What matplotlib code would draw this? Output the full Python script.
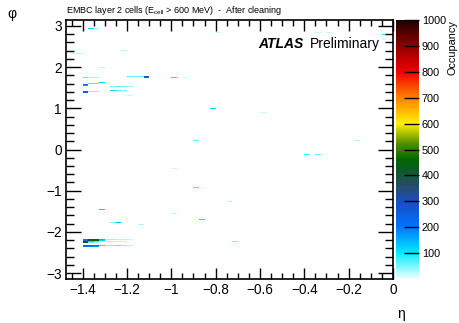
import numpy as np
import matplotlib
matplotlib.use("Agg")
import matplotlib.pyplot as plt
from matplotlib.colors import LinearSegmentedColormap
from matplotlib.ticker import MultipleLocator

plt.rcParams['font.family'] = ['Liberation Sans', 'DejaVu Sans']
plt.rcParams['mathtext.fontset'] = 'custom'
plt.rcParams['mathtext.rm'] = 'Liberation Sans'

# ---- data: occupied cells (eta, phi, occupancy) ----
cell_eta = [-1.36, -1.34,
            -0.04,
            -1.19, -1.165, -1.14, -1.115, -1.115, -0.99,
            -1.39, -1.365, -1.34,
            -1.315, -1.365, -1.34,
            -1.39, -1.39,
            -1.265, -1.24, -1.215, -1.19,
            -1.265, -1.24, -1.215,
            -1.39, -1.39, -1.365, -1.34,
            -1.315, -1.19,
            -0.815, -0.89, -0.165, -0.39, -0.34, -0.89,
            -1.315, -1.265, -1.24, -0.865, -1.14, -0.99, -0.74, -0.715,
            -1.39, -1.365, -1.34, -1.315, -1.29, -1.265, -1.24, -1.215, -1.19,
            -1.39, -1.365, -1.34, -1.315,
            -1.39, -1.365, -1.34, -1.315, -1.29, -1.265, -1.24, -1.215,
            -1.39, -1.365, -1.34,
            -1.39, -1.365, -1.34, -1.315, -1.29, -1.265, -1.24, -1.215, -1.19,
            -1.39, -1.365, -1.34,
            -1.215, -1.415, -1.44, -0.79, -0.34, -0.29, -0.59, -0.99]
cell_phi = [2.93, 2.93,
            2.78,
            1.78, 1.78, 1.78, 1.78, 1.755, 1.76,
            1.755, 1.755, 1.755,
            1.635, 1.61, 1.61,
            1.575, 1.55,
            1.54, 1.54, 1.54, 1.54,
            1.43, 1.43, 1.43,
            1.415, 1.39, 1.40, 1.40,
            2.0, 1.32,
            1.0, 0.22, 0.22, -0.10, -0.10, -0.91,
            -1.46, -1.78, -1.78, -1.71, -1.83, -1.56, -1.27, -2.22,
            -2.17, -2.17, -2.17, -2.17, -2.17, -2.17, -2.17, -2.17, -2.17,
            -2.195, -2.195, -2.195, -2.195,
            -2.22, -2.22, -2.22, -2.22, -2.22, -2.22, -2.22, -2.22,
            -2.245, -2.245, -2.245,
            -2.33, -2.33, -2.33, -2.33, -2.33, -2.33, -2.33, -2.33, -2.33,
            -2.355, -2.355, -2.355,
            2.39, 2.32, 2.32, 2.84, 2.84, 2.84, 0.9, -0.45]
cell_occ = [130, 40,
            90,
            60, 60, 70, 280, 240, 110,
            70, 40, 30,
            120, 80, 70,
            200, 170,
            50, 70, 50, 40,
            110, 60, 50,
            230, 260, 40, 30,
            25, 20,
            120, 60, 30, 80, 60, 80,
            120, 50, 140, 110, 30, 25, 30, 50,
            200, 440, 430, 150, 40, 40, 30, 30, 20,
            220, 430, 420, 120,
            420, 120, 80, 40, 30, 30, 30, 20,
            400, 60, 40,
            240, 230, 220, 100, 50, 50, 80, 40, 30,
            200, 190, 180,
            30, 25, 25, 20, 20, 20, 15, 15]

eta_edges = np.linspace(-1.475, 0.0, 60)
phi_edges = np.linspace(-np.pi, np.pi, 257)

H, _, _ = np.histogram2d(cell_eta, cell_phi, bins=[eta_edges, phi_edges], weights=cell_occ)
Hm = np.ma.masked_where(H.T <= 0, H.T)

stops = [(0.0, (0.93, 1.0, 1.0)), (0.1, (0.0, 0.93, 1.0)), (0.2, (0.0, 0.45, 1.0)),
         (0.3, (0.1, 0.3, 0.75)), (0.36, (0.15, 0.3, 0.4)), (0.42, (0.05, 0.35, 0.15)),
         (0.46, (0.0, 0.4, 0.0)), (0.52, (0.3, 0.55, 0.0)), (0.6, (1.0, 0.95, 0.0)),
         (0.7, (1.0, 0.5, 0.0)), (0.8, (0.95, 0.0, 0.0)), (0.9, (0.55, 0.0, 0.0)),
         (1.0, (0.12, 0.0, 0.0))]
cmap = LinearSegmentedColormap.from_list('atlas', stops, N=512)
cmap.set_bad((1, 1, 1, 0))

fig = plt.figure(figsize=(4.6, 3.23), dpi=100)
ax = fig.add_axes([66/460, 1-279/323, (393-66)/460, (279-20)/323])
img = ax.imshow(Hm, cmap=cmap, vmin=0, vmax=1000, origin='lower', aspect='auto',
                interpolation='nearest',
                extent=(eta_edges[0], eta_edges[-1], phi_edges[0], phi_edges[-1]))

ax.xaxis.set_major_locator(MultipleLocator(0.2))
ax.xaxis.set_minor_locator(MultipleLocator(0.05))
ax.yaxis.set_major_locator(MultipleLocator(1))
ax.yaxis.set_minor_locator(MultipleLocator(0.2))
ax.tick_params(axis='x', which='major', direction='in', length=8, width=1, top=True, labelsize=9.8, pad=3)
ax.tick_params(axis='x', which='minor', direction='in', length=4, width=1, top=True)
ax.tick_params(axis='y', which='major', direction='in', length=11, width=1, right=True, labelsize=9.8, pad=3)
ax.tick_params(axis='y', which='minor', direction='in', length=5.5, width=1, right=True)
ax.set_xlim(-1.475, 0)
ax.set_ylim(-np.pi, np.pi)
xt = [t for t in ax.get_xticks() if -1.475 <= t <= 0.001]
yt = [t for t in ax.get_yticks() if -np.pi <= t <= np.pi]
ax.set_xticks(xt)
ax.set_xticklabels([f"{v:g}".replace('-', '\u2212') for v in xt])
ax.set_yticks(yt)
ax.set_yticklabels([f"{v:g}".replace('-', '\u2212') for v in yt])
ax.set_xlim(-1.475, 0)
ax.set_ylim(-np.pi, np.pi)
for s in ax.spines.values():
    s.set_linewidth(1.2)

cax = fig.add_axes([396/460, 1-279/323, 23/460, (279-20)/323])
cb = fig.colorbar(img, cax=cax)
cb.outline.set_visible(False)
cb.set_ticks(np.arange(100, 1001, 100))
cax.tick_params(direction='in', length=11, width=1, labelsize=7.8, pad=2, colors='black')

fig.text(66/460, 1-13/323, r"EMBC layer 2 cells (E$_{\rm cell}$ > 600 MeV)  -  After cleaning",
         fontsize=6.5, ha='left', va='baseline')
fig.text(401/460, 1-318/323, "\u03b7", fontsize=10, ha='center', va='baseline')
fig.text(12/460, 1-18/323, "\u03c6", fontsize=10, ha='center', va='baseline')
fig.text(458/460, 1-20/323, "Occupancy", fontsize=7.8, rotation=90, ha='right', va='top')
fig.text(258/460, 1-48/323, "ATLAS", fontsize=10, fontweight='bold', fontstyle='italic', ha='left', va='baseline')
fig.text(310/460, 1-48/323, "Preliminary", fontsize=10, ha='left', va='baseline')

fig.savefig("out.png", dpi=100)
